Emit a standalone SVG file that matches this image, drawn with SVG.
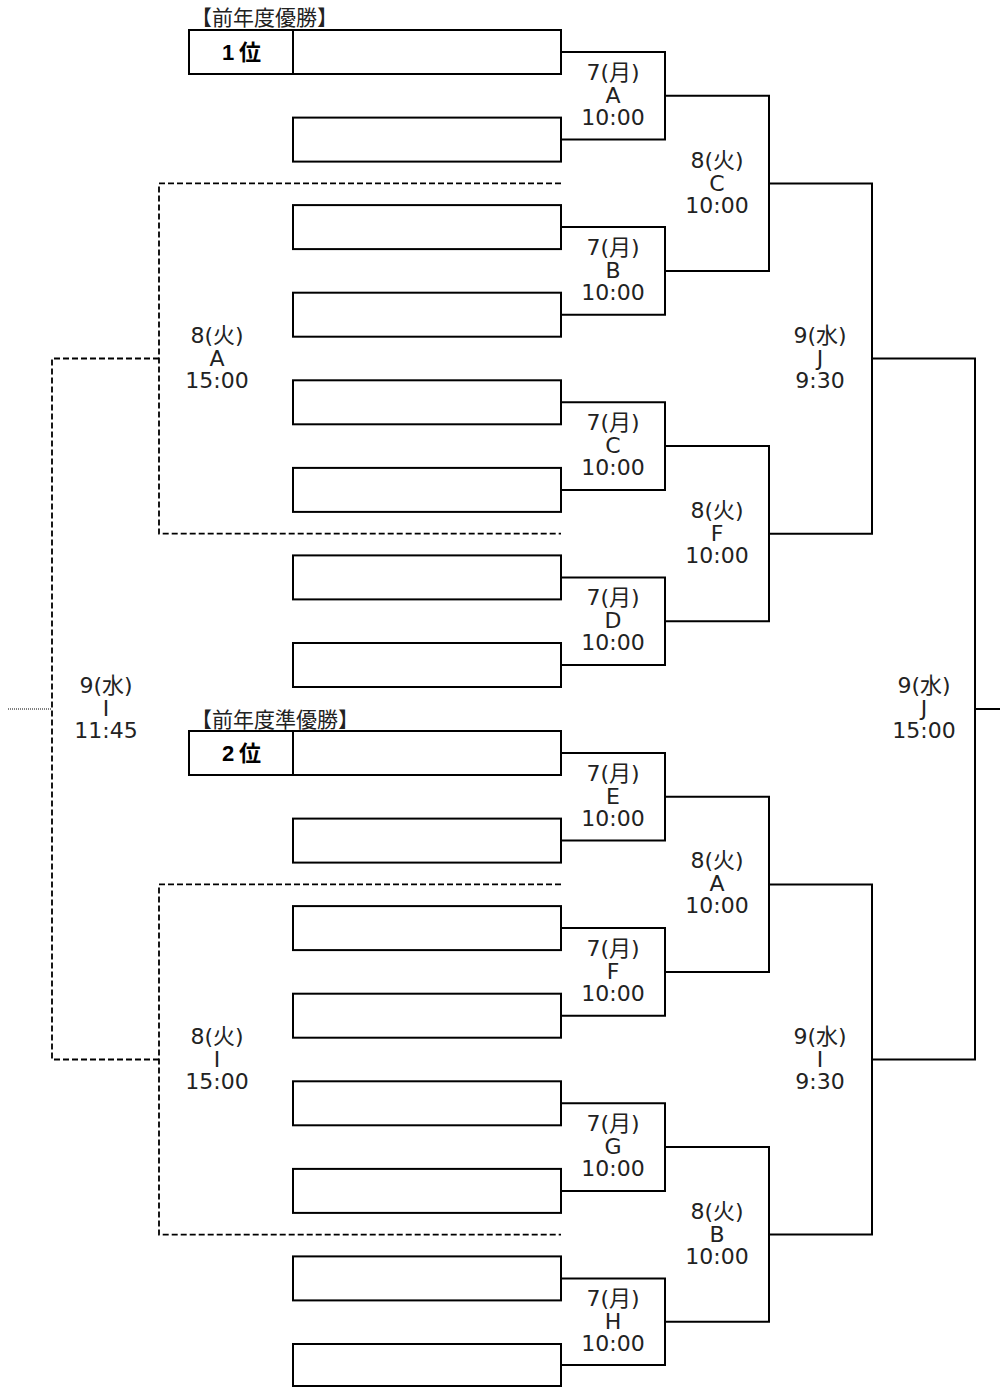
<svg xmlns="http://www.w3.org/2000/svg" width="1000" height="1387" viewBox="0 0 1000 1387">
<style>
.box{fill:#fff;stroke:#000;stroke-width:2}
.ln{fill:none;stroke:#000;stroke-width:2}
.dash{fill:none;stroke:#000;stroke-width:1.8;stroke-dasharray:6 3}
.dot{fill:none;stroke:#000;stroke-width:1;stroke-dasharray:1 1}
.lb{font-family:"DejaVu Sans","Noto Sans CJK JP",sans-serif;font-size:22px;fill:#222;text-anchor:middle}
.hd{font-family:"Noto Sans CJK JP",sans-serif;font-size:21px;fill:#222}
.rk{font-family:"Liberation Sans","Noto Sans CJK JP",sans-serif;font-size:22px;font-weight:bold;fill:#000;text-anchor:middle;letter-spacing:5px}
</style>
<rect width="1000" height="1387" fill="#fff"/>
<g id="connectors">
<path class="ln" d="M561,52H665V139.6H561"/>
<path class="ln" d="M561,227.1H665V314.7H561"/>
<path class="ln" d="M561,402.3H665V489.9H561"/>
<path class="ln" d="M561,577.4H665V665H561"/>
<path class="ln" d="M665,95.8H769V270.9H665"/>
<path class="ln" d="M665,446.1H769V621.2H665"/>
<path class="ln" d="M769,183.4H872V533.7H769"/>
<path class="ln" d="M561,753H665V840.6H561"/>
<path class="ln" d="M561,928.1H665V1015.7H561"/>
<path class="ln" d="M561,1103.3H665V1190.9H561"/>
<path class="ln" d="M561,1278.4H665V1365H561"/>
<path class="ln" d="M665,796.8H769V971.9H665"/>
<path class="ln" d="M665,1147.1H769V1321.7H665"/>
<path class="ln" d="M769,884.4H872V1234.5H769"/>
<path class="ln" d="M872,358.5H975V1059.5H872"/>
<path class="ln" d="M975,709H1000"/>
<path class="dash" d="M561,183.4H159V533.7H561"/>
<path class="dash" d="M561,884.4H159V1234.7H561"/>
<path class="dash" d="M159,358.5H52V1059.5H159"/>
<path class="dot" d="M8,709H52"/>
</g>
<g id="seed1">
<text class="hd" x="191" y="25">【前年度優勝】</text>
<rect class="box" x="189" y="30" width="104" height="44"/>
<text class="rk" x="244" y="60">1位</text>
</g>
<g id="seed2">
<text class="hd" x="191" y="727">【前年度準優勝】</text>
<rect class="box" x="189" y="731" width="104" height="44"/>
<text class="rk" x="244" y="761">2位</text>
</g>
<g id="teams">
<rect id="team1" class="box" x="293" y="30" width="268" height="44"/>
<rect id="team2" class="box" x="293" y="117.6" width="268" height="44"/>
<rect id="team3" class="box" x="293" y="205.1" width="268" height="44"/>
<rect id="team4" class="box" x="293" y="292.7" width="268" height="44"/>
<rect id="team5" class="box" x="293" y="380.3" width="268" height="44"/>
<rect id="team6" class="box" x="293" y="467.9" width="268" height="44"/>
<rect id="team7" class="box" x="293" y="555.4" width="268" height="44"/>
<rect id="team8" class="box" x="293" y="643" width="268" height="44"/>
<rect id="team9" class="box" x="293" y="731" width="268" height="44"/>
<rect id="team10" class="box" x="293" y="818.6" width="268" height="44"/>
<rect id="team11" class="box" x="293" y="906.1" width="268" height="44"/>
<rect id="team12" class="box" x="293" y="993.7" width="268" height="44"/>
<rect id="team13" class="box" x="293" y="1081.3" width="268" height="44"/>
<rect id="team14" class="box" x="293" y="1168.9" width="268" height="44"/>
<rect id="team15" class="box" x="293" y="1256.4" width="268" height="44"/>
<rect id="team16" class="box" x="293" y="1344" width="268" height="42"/>
</g>
<g id="m7A"><text class="lb" x="613" y="80">7(月)</text><text class="lb" x="613" y="103">A</text><text class="lb" x="613" y="125">10:00</text></g>
<g id="m7B"><text class="lb" x="613" y="255">7(月)</text><text class="lb" x="613" y="278">B</text><text class="lb" x="613" y="300">10:00</text></g>
<g id="m7C"><text class="lb" x="613" y="430">7(月)</text><text class="lb" x="613" y="453">C</text><text class="lb" x="613" y="475">10:00</text></g>
<g id="m7D"><text class="lb" x="613" y="605">7(月)</text><text class="lb" x="613" y="628">D</text><text class="lb" x="613" y="650">10:00</text></g>
<g id="m8C"><text class="lb" x="717" y="168">8(火)</text><text class="lb" x="717" y="191">C</text><text class="lb" x="717" y="213">10:00</text></g>
<g id="m8F"><text class="lb" x="717" y="518">8(火)</text><text class="lb" x="717" y="541">F</text><text class="lb" x="717" y="563">10:00</text></g>
<g id="m9J930"><text class="lb" x="820" y="343">9(水)</text><text class="lb" x="820" y="366">J</text><text class="lb" x="820" y="388">9:30</text></g>
<g id="m8A15"><text class="lb" x="217" y="343">8(火)</text><text class="lb" x="217" y="366">A</text><text class="lb" x="217" y="388">15:00</text></g>
<g id="m9J15"><text class="lb" x="924" y="693">9(水)</text><text class="lb" x="924" y="716">J</text><text class="lb" x="924" y="738">15:00</text></g>
<g id="m9I1145"><text class="lb" x="106" y="693">9(水)</text><text class="lb" x="106" y="716">I</text><text class="lb" x="106" y="738">11:45</text></g>
<g id="m7E"><text class="lb" x="613" y="781">7(月)</text><text class="lb" x="613" y="804">E</text><text class="lb" x="613" y="826">10:00</text></g>
<g id="m7F"><text class="lb" x="613" y="956">7(月)</text><text class="lb" x="613" y="979">F</text><text class="lb" x="613" y="1001">10:00</text></g>
<g id="m7G"><text class="lb" x="613" y="1131">7(月)</text><text class="lb" x="613" y="1154">G</text><text class="lb" x="613" y="1176">10:00</text></g>
<g id="m7H"><text class="lb" x="613" y="1306">7(月)</text><text class="lb" x="613" y="1329">H</text><text class="lb" x="613" y="1351">10:00</text></g>
<g id="m8A"><text class="lb" x="717" y="868">8(火)</text><text class="lb" x="717" y="891">A</text><text class="lb" x="717" y="913">10:00</text></g>
<g id="m8B"><text class="lb" x="717" y="1219">8(火)</text><text class="lb" x="717" y="1242">B</text><text class="lb" x="717" y="1264">10:00</text></g>
<g id="m9I930"><text class="lb" x="820" y="1044">9(水)</text><text class="lb" x="820" y="1067">I</text><text class="lb" x="820" y="1089">9:30</text></g>
<g id="m8I15"><text class="lb" x="217" y="1044">8(火)</text><text class="lb" x="217" y="1067">I</text><text class="lb" x="217" y="1089">15:00</text></g>
</svg>
